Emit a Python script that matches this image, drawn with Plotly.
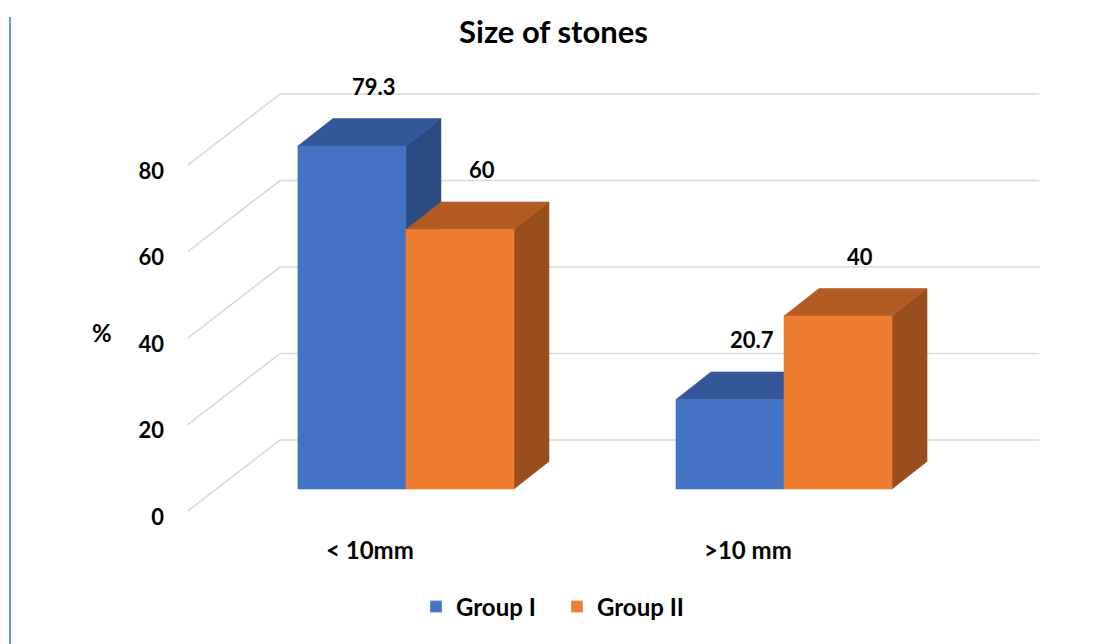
import plotly.graph_objects as go

# ---------------- data ----------------
categories = ["< 10mm", ">10 mm"]
series_names = ["Group I", "Group II"]
group_i = [79.3, 20.7]
group_ii = [60, 40]
value_text_i = ["79.3", "20.7"]
value_text_ii = ["60", "40"]
y_ticks = [0, 20, 40, 60, 80]
y_tick_text = ["0", "20", "40", "60", "80"]
chart_title = "Size of stones"
y_title = "%"

# ---------------- style / geometry ----------------
FRONT = ["#4472C4", "#ED7D31"]
TOP = ["#34579A", "#B35B22"]
SIDE = ["#2A4A80", "#984F1D"]
GRID = "#D9D9D9"
FONT = "Lato"

BAR_W = 0.2857        # bar width in category units
DEPTH_DX = 0.0926     # perspective depth (x units)
DEPTH_DY = 6.36       # perspective depth (value units)
WALL_DY = 11.33       # back wall offset
WALL_X0, WALL_X1 = -0.333, 1.675
FLOOR_X0 = -0.577
FLOOR_DY = -5.09
TICK_DY = -6.47

W, H = 1107, 644
ML, MR, MT, MB = 167, 47, 70, 114
XR = [-0.632, 1.730]
YR = [-9.48, 96.88]

fig = go.Figure()

# gridlines (back wall + diagonal side)
gx, gy = [], []
for v in y_ticks:
    gx += [FLOOR_X0, WALL_X0, WALL_X1, None]
    gy += [v + FLOOR_DY, v + WALL_DY, v + WALL_DY, None]
fig.add_trace(go.Scatter(x=gx, y=gy, mode="lines", line=dict(color=GRID, width=1.6),
                         hoverinfo="skip", showlegend=False))

series_vals = [group_i, group_ii]
series_text = [value_text_i, value_text_ii]


def poly(xs, ys, color):
    fig.add_trace(go.Scatter(x=xs + [xs[0]], y=ys + [ys[0]], mode="lines", fill="toself",
                             fillcolor=color, line=dict(color=color, width=0.6),
                             hoverinfo="skip", showlegend=False))


for i, cat in enumerate(categories):
    for s in range(len(series_names)):
        v = series_vals[s][i]
        xl = i - BAR_W + s * BAR_W
        xr = xl + BAR_W
        # side face
        poly([xr, xr + DEPTH_DX, xr + DEPTH_DX, xr], [0, DEPTH_DY, v + DEPTH_DY, v], SIDE[s])
        # top face
        poly([xl, xr, xr + DEPTH_DX, xl + DEPTH_DX], [v, v, v + DEPTH_DY, v + DEPTH_DY], TOP[s])
        # front face
        poly([xl, xr, xr, xl], [0, 0, v, v], FRONT[s])

# legend proxies
for s, name in enumerate(series_names):
    fig.add_trace(go.Bar(x=[None], y=[None], name=name, marker=dict(color=FRONT[s])))

annotations = []
lab_font = dict(family=FONT, size=22, color="#000000", weight="bold")
cat_font = dict(family=FONT, size=24, color="#000000", weight="bold")
for i, cat in enumerate(categories):
    for s in range(len(series_names)):
        v = series_vals[s][i]
        xc = i - BAR_W / 2 + s * BAR_W
        annotations.append(dict(x=xc, y=v, xref="x", yref="y", text=series_text[s][i],
                                showarrow=False, xshift=22, yshift=60, font=lab_font))
    annotations.append(dict(x=i, y=0, xref="x", yref="y", text=cat, showarrow=False,
                            xshift=-36, yshift=-60, font=cat_font))

annotations.append(dict(x=(102 - ML) / (W - ML - MR), y=(489 - 332) / 4.325, xref="paper", yref="y",
                        text=y_title, showarrow=False, xanchor="center", font=cat_font))

fig.update_layout(
    width=W, height=H,
    margin=dict(l=ML, r=MR, t=MT, b=MB),
    paper_bgcolor="white", plot_bgcolor="white",
    title=dict(text=chart_title, x=0.5, xref="container", xanchor="center",
               y=1 - 32 / H, yref="container", yanchor="middle",
               font=dict(family=FONT, size=31, color="#000000", weight="bold")),
    xaxis=dict(range=XR, visible=False, fixedrange=True),
    yaxis=dict(range=YR, showgrid=False, zeroline=False, showline=False,
               tickvals=[t + TICK_DY for t in y_ticks], ticktext=y_tick_text,
               tickfont=dict(family=FONT, size=22, color="#000000", weight="bold"),
               ticks="", ticklabelstandoff=2),
    legend=dict(orientation="h", x=(557 - ML) / (W - ML - MR), xanchor="center",
                y=(H - MB - 607) / (H - MT - MB), yanchor="middle",
                font=dict(family=FONT, size=24, color="#000000", weight="bold"),
                itemwidth=30, entrywidth=96, entrywidthmode="pixels",
                traceorder="normal"),
    annotations=annotations,
    shapes=[dict(type="line", xref="paper", yref="paper",
                 x0=(10 - ML) / (W - ML - MR), x1=(10 - ML) / (W - ML - MR),
                 y0=(H - MB - 17) / (H - MT - MB), y1=(H - MB - 644) / (H - MT - MB),
                 line=dict(color="#6F95DC", width=2))],
    showlegend=True,
    barmode="overlay",
)

fig.write_html("out.html")
